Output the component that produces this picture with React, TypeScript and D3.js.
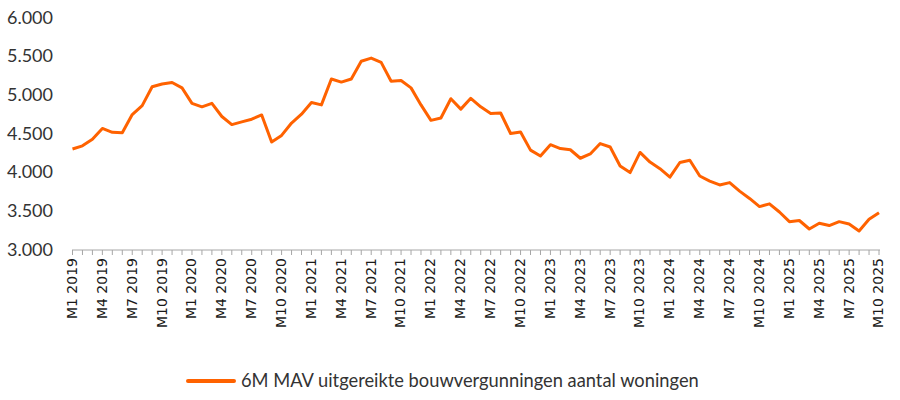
import React from "react";
import * as d3 from "d3";

const years = [2019, 2020, 2021, 2022, 2023, 2024, 2025];
const months: string[] = [];
years.forEach((y) => {
  for (let m = 1; m <= 12; m++) {
    if (y === 2025 && m > 10) break;
    months.push(`M${m} ${y}`);
  }
});

const values = [
  4300, 4340, 4425, 4565, 4515, 4510, 4745, 4860, 5105, 5140, 5160, 5090,
  4890, 4845, 4890, 4720, 4615, 4650, 4685, 4740, 4390, 4475, 4635, 4750,
  4900, 4870, 5205, 5165, 5205, 5435, 5475, 5420, 5175, 5185, 5090, 4870,
  4670, 4700, 4950, 4815, 4955, 4845, 4760, 4765, 4500, 4520, 4285, 4210,
  4355, 4305, 4290, 4180, 4235, 4370, 4325, 4080, 3995, 4255, 4130, 4045,
  3935, 4125, 4155, 3950, 3885, 3835, 3865, 3755, 3660, 3555, 3590, 3485,
  3360, 3375, 3265, 3340, 3310, 3360, 3330, 3240, 3390, 3475,
];

const yTicks = [3000, 3500, 4000, 4500, 5000, 5500, 6000];
const seriesName = "6M MAV uitgereikte bouwvergunningen aantal woningen";

const fmt = (v: number) => d3.format(",")(v).replace(/,/g, ".");

export default function App() {
  const x = d3.scalePoint<number>().domain(d3.range(months.length)).range([72.5, 879]);
  const y = d3.scaleLinear().domain([3000, 6000]).range([249.5, 17.5]);
  const line = d3
    .line<number>()
    .x((_, i) => x(i) as number)
    .y((d) => y(d));
  const axisY = 250;
  return (
    <svg
      width={900}
      height={400}
      style={{ position: "absolute", left: 0, top: 0, background: "#fff" }}
    >
      {yTicks.map((t) => (
        <text
          key={t}
          x={53}
          y={y(t)}
          dy="0.35em"
          textAnchor="end"
          fontFamily="Lato"
          fontSize={18}
          fill="#333"
        >
          {fmt(t)}
        </text>
      ))}
      <line x1={72} x2={880} y1={axisY} y2={axisY} stroke="#a6a6a6" strokeWidth={1} />
      {months.map((m, i) => (
        <line
          key={m}
          x1={x(i)}
          x2={x(i)}
          y1={axisY}
          y2={axisY + 5}
          stroke="#a6a6a6"
          strokeWidth={1}
        />
      ))}
      {months.map((m, i) =>
        i % 3 === 0 ? (
          <text
            key={"l" + m}
            transform={`translate(${(x(i) as number) - 0.5},${axisY + 8}) rotate(-90)`}
            dy="0.35em"
            textAnchor="end"
            fontFamily="DejaVu Sans"
            fontSize={14}
            fill="#1a1a1a"
          >
            {m}
          </text>
        ) : null
      )}
      <path
        d={line(values) || ""}
        fill="none"
        stroke="#FF6200"
        strokeWidth={3}
        strokeLinejoin="round"
      />
      <line
        x1={188}
        x2={234}
        y1={381}
        y2={381}
        stroke="#FF6200"
        strokeWidth={4}
        strokeLinecap="round"
      />
      <text x={241} y={381} dy="0.35em" fontFamily="Lato" fontSize={18.3} fill="#333">
        {seriesName}
      </text>
    </svg>
  );
}
